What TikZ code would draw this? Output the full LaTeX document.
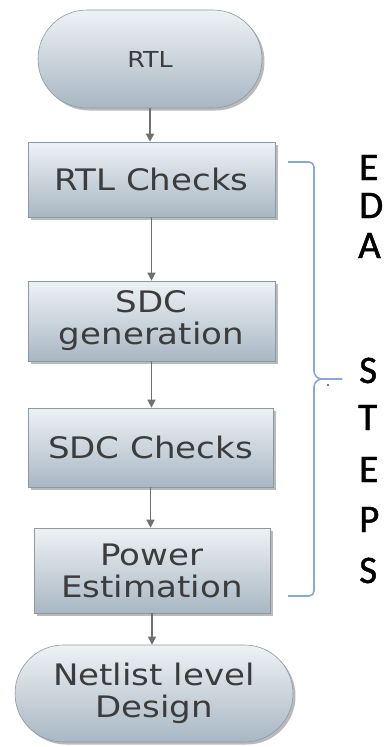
\documentclass[tikz,border=0pt]{standalone}
\usepackage{fontspec}
\newfontfamily\boxfont[FakeStretch=1.15]{DejaVu Sans}
\newfontfamily\lblfont[FakeBold=1.2]{Carlito}
\usetikzlibrary{shapes.misc,shadows,arrows.meta}
\definecolor{boxtop}{HTML}{EEF2F5}
\definecolor{boxbot}{HTML}{A8B7C3}
\definecolor{boxline}{HTML}{8C99A4}
\definecolor{flowline}{HTML}{707070}
\definecolor{bracecol}{HTML}{88A9D8}
\definecolor{boxtext}{HTML}{3C3C3C}
\begin{document}
\begin{tikzpicture}[x=1pt,y=-1pt,
  stepbox/.style={rectangle, draw=boxline, line width=0.6pt,
    top color=boxtop, bottom color=boxbot,
    drop shadow={shadow xshift=2.5pt, shadow yshift=-2.5pt, opacity=0.45, fill=black!60},
    text=boxtext, font=\boxfont\fontsize{29.6}{32}\selectfont,
    align=center, inner sep=0pt},
  termbox/.style={stepbox, rounded rectangle},
  flow/.style={draw=flowline, line width=1.3pt, -{Triangle[width=8pt,length=8pt]}},
  brace/.style={draw=bracecol, line width=1.6pt},
  lbl/.style={anchor=base west, inner sep=0pt, font=\lblfont\fontsize{39}{39}\selectfont}]
\useasboundingbox[fill=white] (0,0) rectangle (391,747);

% flow steps
\node[termbox, minimum width=224pt, minimum height=98pt,
      font=\boxfont\fontsize{22}{24}\selectfont] (rtl) at (150,59) {RTL};
\node[stepbox, minimum width=247pt, minimum height=75pt] (chk1) at (151.5,179.5) {RTL Checks};
\node[stepbox, minimum width=247pt, minimum height=80pt] (gen) at (151.5,321) {SDC\\generation};
\node[stepbox, minimum width=245pt, minimum height=79pt] (chk2) at (150.5,447.5) {SDC Checks};
\node[stepbox, minimum width=236pt, minimum height=85pt] (pwr) at (152,570.5) {Power\\Estimation};
\node[termbox, minimum width=278pt, minimum height=97pt] (net) at (154,693.5) {Netlist level\\Design};

% connectors
\draw[flow] (rtl.south) -- (rtl.south |- chk1.north);
\draw[flow] (chk1.south) -- (chk1.south |- gen.north);
\draw[flow] (gen.south) -- (gen.south |- chk2.north);
\draw[flow] (chk2.south) -- (chk2.south |- pwr.north);
\draw[flow] (pwr.south) -- (pwr.south |- net.north);

% brace grouping the EDA steps
\coordinate (bt) at (288,162);
\coordinate (bm) at (342,379);
\coordinate (bb) at (288,596);
\draw[brace] (bt) -- (309,162) to[out=0,in=90] (314,167) -- (314,371)
  to[out=-90,in=180] (322,379) -- (bm);
\draw[brace] (bm) -- (322,379) to[out=180,in=90] (314,387) -- (314,591)
  to[out=-90,in=0] (309,596) -- (bb);
\fill (328,385) circle (0.8pt);

% vertical label
\node[lbl] (l1) at (359,180) {E};
\node[lbl] (l2) at (359,218) {D};
\node[lbl] (l3) at (358,258) {A};
\node[lbl] (l4) at (359,383) {S};
\node[lbl] (l5) at (358,430) {T};
\node[lbl] (l6) at (359,482) {E};
\node[lbl] (l7) at (359,532) {P};
\node[lbl] (l8) at (359,583) {S};
\end{tikzpicture}
\end{document}
